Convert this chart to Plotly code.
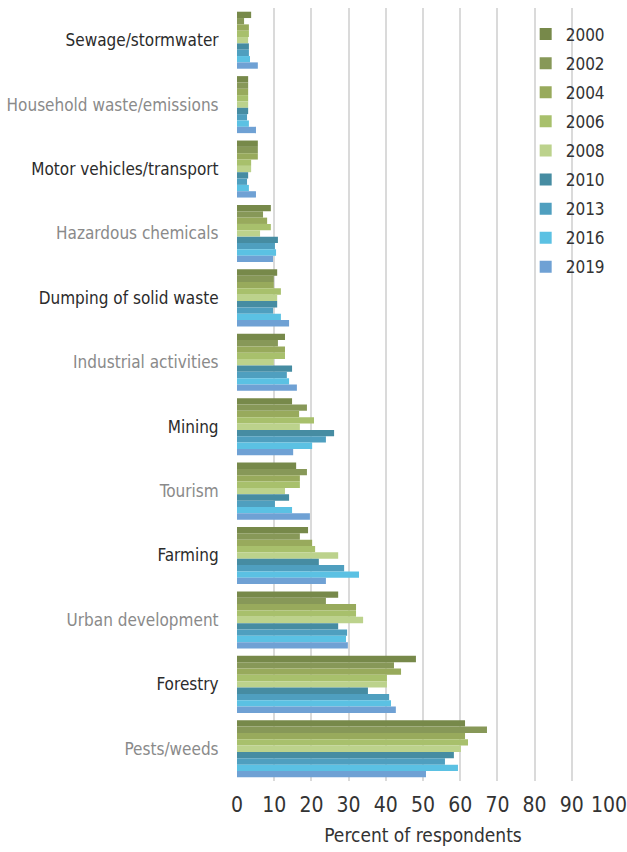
import plotly.graph_objects as go

categories = [
    "Sewage/stormwater",
    "Household waste/emissions",
    "Motor vehicles/transport",
    "Hazardous chemicals",
    "Dumping of solid waste",
    "Industrial activities",
    "Mining",
    "Tourism",
    "Farming",
    "Urban development",
    "Forestry",
    "Pests/weeds",
]

years = ["2000", "2002", "2004", "2006", "2008", "2010", "2013", "2016", "2019"]

# Percent of respondents per survey year, in category order above
v2000 = [3.8, 3.0, 5.6, 9.1, 10.8, 12.9, 14.8, 15.9, 19.1, 27.2, 48.1, 61.3]
v2002 = [1.9, 3.0, 5.6, 7.0, 9.9, 11.0, 18.8, 18.8, 16.9, 23.9, 42.2, 67.2]
v2004 = [3.2, 3.0, 5.6, 8.1, 9.9, 12.9, 16.7, 16.9, 20.2, 32.0, 44.1, 61.3]
v2006 = [3.2, 3.0, 3.8, 9.1, 11.8, 12.9, 20.7, 16.9, 21.0, 32.0, 40.3, 62.1]
v2008 = [3.0, 3.0, 3.8, 6.2, 10.8, 9.9, 16.9, 12.9, 27.2, 33.9, 40.3, 60.2]
v2010 = [3.2, 3.0, 3.0, 11.0, 10.8, 14.8, 26.1, 14.0, 22.0, 27.2, 35.2, 58.3]
v2013 = [3.2, 2.7, 2.7, 10.2, 9.7, 13.4, 23.9, 10.2, 28.8, 29.6, 40.9, 55.9]
v2016 = [3.5, 3.2, 3.2, 10.5, 11.8, 14.0, 20.2, 14.8, 32.8, 29.3, 41.4, 59.4]
v2019 = [5.6, 5.1, 5.1, 9.7, 14.0, 16.1, 15.1, 19.6, 23.9, 29.8, 42.7, 50.8]

series = [v2000, v2002, v2004, v2006, v2008, v2010, v2013, v2016, v2019]

colors = [
    "#77894a", "#879858", "#98aa5c", "#a8c06c", "#bcd28c",
    "#468ca2", "#4f9fbf", "#5bc1e3", "#6fa1d4",
]

FONT = "DejaVu Sans Condensed, Roboto, sans-serif"

fig = go.Figure()
for year, vals, col in zip(years, series, colors):
    fig.add_trace(go.Bar(
        y=categories,
        x=vals,
        name=year,
        orientation="h",
        marker=dict(color=col, line=dict(width=0)),
        legendgroup=year,
    ))

# Alternate dark / grey category labels
tick_text = [
    f'<span style="color:{"#2b2b2b" if i % 2 == 0 else "#8a8a8a"}">{c}</span>'
    for i, c in enumerate(categories)
]

fig.update_layout(
    width=627,
    height=852,
    margin=dict(l=237, r=18, t=8, b=71),
    barmode="group",
    bargap=0.115,
    bargroupgap=0,
    plot_bgcolor="white",
    paper_bgcolor="white",
    font=dict(family=FONT, color="#333333"),
    legend=dict(
        x=0.776,
        y=0.989,
        xanchor="left",
        yanchor="top",
        bgcolor="rgba(0,0,0,0)",
        font=dict(size=17, color="#333333", family=FONT),
        tracegroupgap=4,
        itemwidth=30,
    ),
    xaxis=dict(
        range=[0, 100],
        tickvals=list(range(0, 101, 10)),
        tickangle=0,
        automargin=False,
        ticklabeloverflow="allow",
        showgrid=True,
        gridcolor="#dadada",
        gridwidth=2,
        zeroline=False,
        showline=False,
        ticks="outside",
        ticklen=5,
        tickcolor="rgba(0,0,0,0)",
        tickfont=dict(size=21, color="#333333"),
        title=dict(text="Percent of respondents", font=dict(size=19, color="#333333"), standoff=12),
    ),
    yaxis=dict(
        autorange="reversed",
        automargin=False,
        tickmode="array",
        tickvals=categories,
        ticktext=tick_text,
        tickfont=dict(size=17),
        ticks="outside",
        ticklen=14,
        tickcolor="rgba(0,0,0,0)",
        showgrid=False,
        showline=False,
    ),
)

fig.write_html("out.html")
